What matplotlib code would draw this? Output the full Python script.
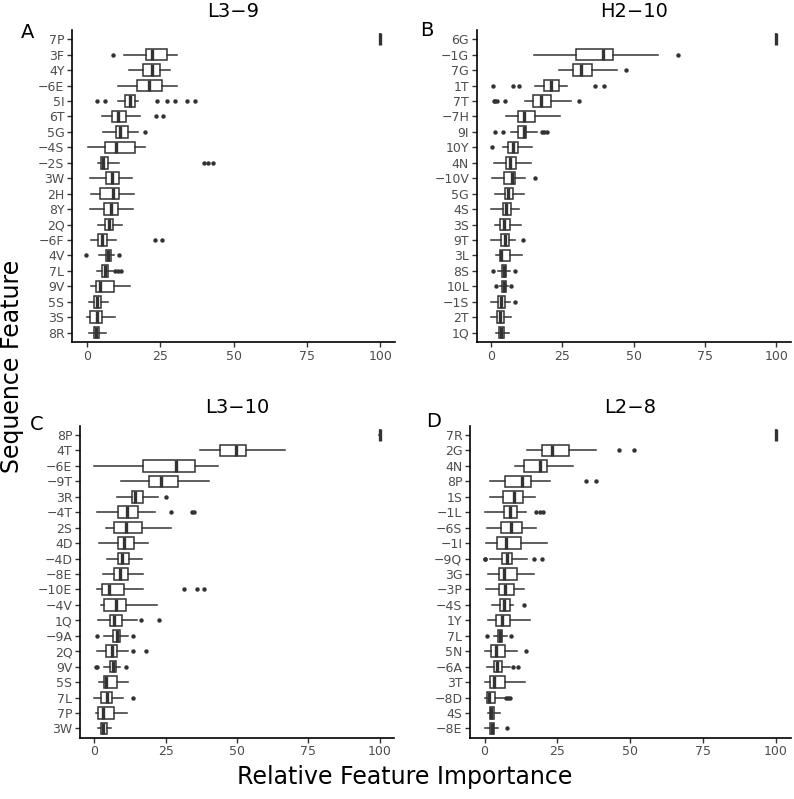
import numpy as np
import matplotlib
matplotlib.use("Agg")
import matplotlib.pyplot as plt

plt.rcParams["font.family"] = ["DejaVu Sans"]

# -----------------------
# Panel A : L3-9
# -----------------------
A_labels = ["7P", "3F", "4Y", "−6E", "5I", "6T", "5G", "−4S", "−2S", "3W",
            "2H", "8Y", "2Q", "−6F", "4V", "7L", "9V", "5S", "3S", "8R"]
A_lo = [99.8, 12.7, 14.4, 10.7, 10.8, 5.3, 5.7, 0.5, 3.9, 1.1, 1.4, 1.1, 4.0, 1.4, 4.3, 3.6, 1.4, 0.9, 0.0, 0.8]
A_q1 = [99.9, 20.1, 19.3, 17.1, 13.0, 8.5, 9.9, 6.3, 5.0, 6.5, 4.4, 6.0, 6.3, 4.0, 6.5, 5.3, 3.1, 2.5, 1.1, 2.5]
A_med = [100, 22.4, 22.4, 21.3, 14.7, 10.7, 11.3, 10.0, 5.5, 8.5, 9.1, 8.2, 7.6, 5.3, 7.1, 6.3, 4.4, 3.6, 3.6, 3.2]
A_q3 = [100, 27.2, 24.8, 25.8, 16.3, 13.5, 13.9, 16.6, 7.3, 11.0, 11.0, 10.7, 9.0, 6.8, 8.2, 7.1, 9.3, 4.8, 5.3, 4.3]
A_hi = [100, 30.9, 28.2, 30.6, 17.5, 18.2, 17.4, 20.0, 11.0, 15.4, 16.2, 15.6, 11.9, 9.9, 9.3, 9.1, 14.7, 7.1, 9.7, 6.7]
A_out = [[], [9.0], [], [], [3.6, 6.1, 23.9, 27.5, 30.0, 34.1, 37.0], [23.7, 26.1], [19.8], [],
         [40.0, 41.4, 42.9], [], [], [], [], [23.4, 25.8], [-0.1, 11.0], [9.6, 10.7, 11.7], [], [], [], []]

# -----------------------
# Panel B : H2-10
# -----------------------
B_labels = ["6G", "−1G", "7G", "1T", "7T", "−7H", "9I", "10Y", "4N", "−10V",
            "5G", "4S", "3S", "9T", "3L", "8S", "10L", "−1S", "2T", "1Q"]
B_lo = [99.8, 14.9, 23.9, 15.5, 12.0, 5.2, 7.0, 4.2, 0.9, 0.3, 1.5, 0.0, 1.3, 0.1, 1.7, 2.4, 3.0, 0.1, 0.0, 1.9]
B_q1 = [99.9, 29.7, 28.7, 18.6, 14.8, 9.3, 9.3, 5.9, 5.2, 4.4, 4.8, 4.1, 3.3, 3.5, 3.0, 3.8, 3.8, 2.4, 2.1, 2.9]
B_med = [100, 39.2, 31.6, 21.0, 17.5, 11.4, 11.4, 7.6, 6.8, 7.3, 5.8, 5.4, 4.4, 5.0, 3.6, 4.5, 4.4, 3.6, 3.3, 3.5]
B_q3 = [100, 42.9, 35.5, 23.7, 21.0, 15.5, 12.4, 9.3, 8.9, 8.3, 7.6, 7.0, 6.8, 6.2, 6.8, 5.4, 5.1, 4.9, 4.7, 4.4]
B_hi = [100, 58.4, 44.3, 26.6, 28.0, 24.2, 16.1, 14.3, 14.1, 12.0, 11.4, 9.9, 10.5, 8.5, 10.8, 6.8, 5.9, 6.8, 7.0, 6.2]
B_out = [[], [65.6], [47.3], [0.6, 7.6, 9.7, 36.5, 39.7], [0.9, 1.5, 2.1, 4.8, 30.7], [],
         [1.3, 4.2, 17.8, 18.6, 19.6], [0.3], [], [15.3], [], [], [], [11.2], [],
         [0.8, 8.5], [1.9, 7.1], [8.5], [], []]

# -----------------------
# Panel C : L3-10
# -----------------------
C_labels = ["8P", "4T", "−6E", "−9T", "3R", "−4T", "2S", "4D", "−4D", "−8E",
            "−10E", "−4V", "1Q", "−9A", "2Q", "9V", "5S", "7L", "7P", "3W"]
C_lo = [99.8, 37.0, 0.0, 9.3, 8.1, 0.8, 4.0, 1.6, 4.6, 2.9, 1.1, 2.3, 1.4, 3.5, 1.1, 3.5, 1.8, 0.0, 0.5, 1.2]
C_q1 = [99.9, 44.2, 16.9, 19.1, 13.3, 8.2, 6.9, 8.2, 8.3, 6.9, 2.8, 3.5, 5.5, 6.7, 4.0, 5.5, 3.5, 2.2, 1.2, 2.2]
C_med = [100, 49.8, 28.6, 23.2, 14.2, 11.3, 11.0, 10.4, 9.8, 9.0, 5.3, 7.5, 6.9, 7.8, 6.1, 6.4, 4.1, 4.3, 3.2, 3.2]
C_q3 = [100, 53.3, 35.2, 29.4, 16.9, 15.4, 16.8, 14.0, 12.3, 11.7, 10.4, 11.0, 9.6, 9.0, 7.8, 7.6, 7.8, 6.3, 6.9, 4.6]
C_hi = [100, 66.7, 43.2, 40.1, 22.4, 21.4, 26.7, 18.7, 16.8, 16.9, 17.2, 22.1, 14.8, 11.9, 11.9, 9.0, 11.9, 10.2, 11.3, 5.8]
C_out = [[], [], [], [], [25.0], [26.8, 34.1, 35.0], [], [], [], [], [31.5, 35.8, 38.5], [],
         [16.2, 22.8], [1.1, 13.7], [13.7, 18.0], [0.5, 1.1, 11.0], [], [13.7], [], []]

# -----------------------
# Panel D : L2-8
# -----------------------
D_labels = ["7R", "2G", "4N", "8P", "1S", "−1L", "−6S", "−1I", "−9Q", "3G",
            "−3P", "−4S", "1Y", "7L", "5N", "−6A", "3T", "−8D", "4S", "−8E"]
D_lo = [99.8, 14.7, 10.3, 1.7, 1.7, 0.0, 0.8, 0.6, 1.9, 1.1, 0.6, 2.5, 1.1, 3.4, 0.3, 0.9, 0.0, 0.0, 1.1, 0.3]
D_q1 = [99.9, 19.8, 13.7, 7.0, 6.5, 6.6, 5.7, 4.4, 6.1, 4.8, 4.9, 5.2, 3.8, 4.6, 2.3, 3.2, 1.7, 0.9, 1.7, 1.9]
D_med = [100, 23.1, 19.1, 12.8, 10.0, 8.8, 9.2, 7.4, 7.7, 6.6, 7.1, 6.6, 6.0, 5.4, 4.0, 4.2, 3.2, 1.5, 2.3, 2.6]
D_q3 = [100, 28.9, 21.5, 15.8, 13.2, 11.1, 12.8, 12.4, 9.3, 11.1, 10.1, 8.6, 8.8, 6.1, 7.1, 6.0, 7.1, 3.7, 3.4, 3.4]
D_hi = [100, 38.4, 30.4, 22.6, 17.2, 14.1, 17.5, 21.4, 14.7, 16.8, 13.5, 9.7, 15.5, 7.7, 11.1, 8.6, 14.0, 6.9, 5.2, 4.6]
D_out = [[], [46.2, 51.2], [], [34.7, 38.1], [], [17.8, 18.9, 20.0], [], [], [0.0, 0.3, 17.0, 19.8],
         [], [], [13.4], [], [0.9, 9.2], [14.3], [9.7, 11.5], [], [7.2, 8.0, 8.6], [], [7.7]]

x_ticks = [0, 25, 50, 75, 100]

DARK = "#333333"
GREY = "#4D4D4D"


def draw_panel(rect, labels, lo, q1, med, q3, hi, out, title):
    ax = fig.add_axes(rect)
    stats = []
    for i in range(len(labels)):
        stats.append(dict(whislo=lo[i], q1=q1[i], med=med[i], q3=q3[i],
                          whishi=hi[i], fliers=out[i]))
    pos = np.arange(len(labels), 0, -1)
    ax.bxp(stats, positions=pos, widths=0.75, orientation="horizontal",
           showcaps=False, patch_artist=True,
           boxprops=dict(facecolor="white", edgecolor=DARK, linewidth=1.1),
           whiskerprops=dict(color=DARK, linewidth=1.1),
           medianprops=dict(color=DARK, linewidth=2.4, solid_capstyle="butt"),
           flierprops=dict(marker="o", markerfacecolor=DARK, markeredgecolor=DARK,
                           markersize=3.2, markeredgewidth=0))
    ax.set_xlim(-5, 105)
    ax.set_ylim(0.4, len(labels) + 0.6)
    ax.set_xticks(x_ticks)
    ax.set_xticklabels([str(t) for t in x_ticks])
    ax.set_yticks(pos)
    ax.set_yticklabels(labels)
    ax.tick_params(colors=DARK, labelcolor=GREY, labelsize=9, length=3.5, width=1, pad=2)
    for s in ["top", "right"]:
        ax.spines[s].set_visible(False)
    for s in ["left", "bottom"]:
        ax.spines[s].set_linewidth(1.2)
        ax.spines[s].set_color("black")
    x0, y0, w, h = rect
    fig.text(x0 + w / 2, y0 + h + 18 / 799, title, ha="center", va="center", fontsize=14)
    return ax


fig = plt.figure(figsize=(7.94, 7.99), dpi=100)

draw_panel([0.0907, 0.5720, 0.4068, 0.3905], A_labels, A_lo, A_q1, A_med, A_q3, A_hi, A_out, "L3−9")
draw_panel([0.6004, 0.5720, 0.3955, 0.3905], B_labels, B_lo, B_q1, B_med, B_q3, B_hi, B_out, "H2−10")
draw_panel([0.1008, 0.0767, 0.3955, 0.3905], C_labels, C_lo, C_q1, C_med, C_q3, C_hi, C_out, "L3−10")
draw_panel([0.5919, 0.0767, 0.4039, 0.3905], D_labels, D_lo, D_q1, D_med, D_q3, D_hi, D_out, "L2−8")

# panel letters
for letter, px, py in [("A", 28, 32), ("B", 427, 30), ("C", 37, 424), ("D", 434, 422)]:
    fig.text(px / 794, 1 - py / 799, letter, ha="center", va="center", fontsize=14)

fig.text(12 / 794, 1 - 366 / 799, "Sequence Feature", rotation=90, ha="center", va="center", fontsize=17)
fig.text(405 / 794, 1 - 777 / 799, "Relative Feature Importance", ha="center", va="center", fontsize=17)

fig.savefig("out.png", dpi=100)
